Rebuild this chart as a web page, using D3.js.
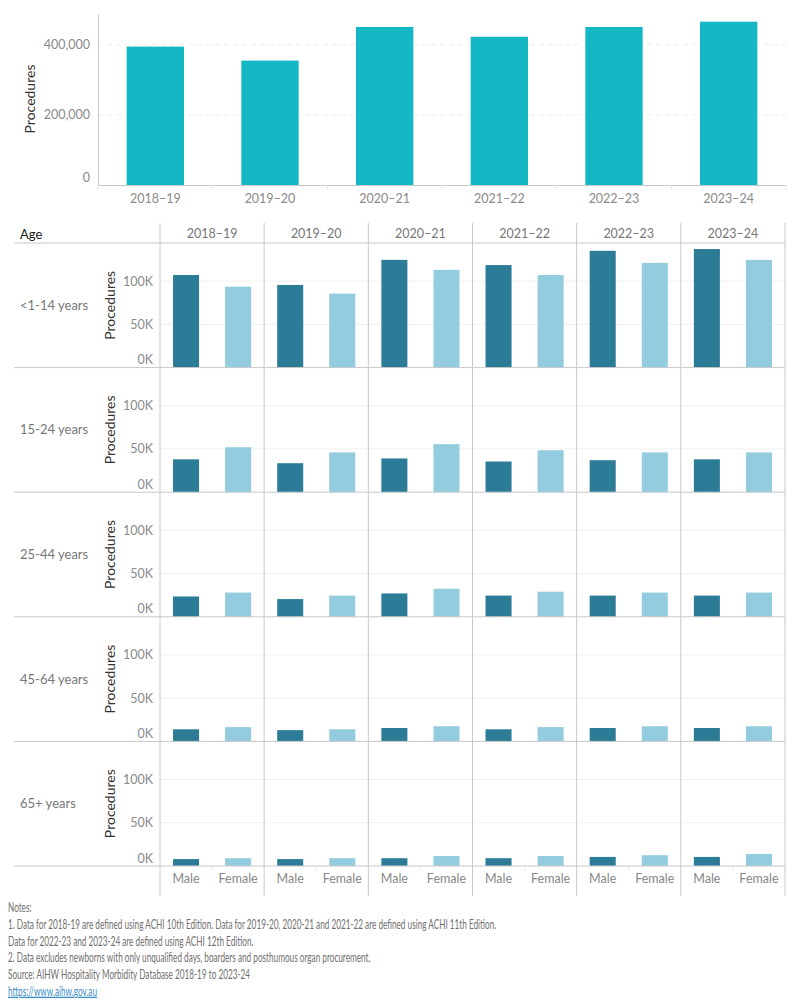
<!DOCTYPE html>
<html>
<head>
<meta charset="utf-8">
<script src="https://cdn.jsdelivr.net/npm/d3@7"></script>
<style>
  body { margin: 0; background: #fff; }
  svg text { font-family: Lato, "Open Sans", sans-serif; }
</style>
</head>
<body>
<svg id="chart" width="800" height="1000"></svg>
<script>
// financial years (en dash in labels)
const years = ["2018\u201319", "2019\u201320", "2020\u201321", "2021\u201322", "2022\u201323", "2023\u201324"];

// total procedures per year (top chart)
const totalProcedures = [395000, 355000, 451000, 423000, 451000, 466000];

const ageGroups = ["<1-14 years", "15-24 years", "25-44 years", "45-64 years", "65+ years"];
const sexes = ["Male", "Female"];

// procedures by age group (rows) and year (columns)
const maleValues = [
  [107000, 95500, 124500, 118500, 135000, 137000],
  [38000, 33500, 39000, 35500, 37000, 38000],
  [23500, 20500, 27000, 24500, 24500, 24500],
  [14000, 13000, 15500, 14000, 15500, 15500],
  [8000, 8000, 9000, 9000, 10500, 10500],
];
const femaleValues = [
  [93500, 85500, 113000, 107000, 121000, 124500],
  [52000, 46000, 55500, 48500, 46000, 46000],
  [28000, 24500, 32500, 29000, 28000, 28000],
  [16500, 14000, 17500, 16500, 17500, 17500],
  [9000, 9000, 11500, 11500, 12500, 14000],
];

const topTicks = [0, 200000, 400000];
const rowTicks = [0, 50000, 100000];

const notes = [
  "Notes:",
  "1. Data for 2018-19 are defined using ACHI 10th Edition. Data for 2019-20, 2020-21 and 2021-22 are defined using ACHI 11th Edition.",
  "Data for 2022-23 and 2023-24 are defined using ACHI 12th Edition.",
  "2. Data excludes newborns with only unqualified days, boarders and posthumous organ procurement.",
  "Source: AIHW Hospitality Morbidity Database 2018-19 to 2023-24",
];
const link = "https://www.aihw.gov.au";

const colors = { total: "#14b8c5", Male: "#2c7c98", Female: "#93ccdf" };
const lineColor = "#c8c8c8";
const tickColor = "#8a8a8a";

const svg = d3.select("#chart");

// ---------- top chart: total procedures ----------
const topBox = { left: 98, right: 786, top: 14, bottom: 185 };

const xTop = d3.scaleBand()
  .domain(years)
  .range([topBox.left, topBox.right])
  .paddingInner(0.5)
  .paddingOuter(0.25);

const yTop = d3.scaleLinear()
  .domain([0, 488000])
  .range([topBox.bottom, topBox.top]);

// dashed gridlines
svg.append("g")
  .selectAll("line")
  .data(topTicks.filter(d => d > 0))
  .join("line")
  .attr("x1", topBox.left)
  .attr("x2", topBox.right)
  .attr("y1", d => yTop(d))
  .attr("y2", d => yTop(d))
  .attr("stroke", "#ececec")
  .attr("stroke-dasharray", "5,4");

svg.append("g")
  .selectAll("rect")
  .data(totalProcedures)
  .join("rect")
  .attr("x", (d, i) => xTop(years[i]))
  .attr("y", d => yTop(d))
  .attr("width", xTop.bandwidth())
  .attr("height", d => yTop(0) - yTop(d))
  .attr("fill", colors.total);

const yAxisTop = svg.append("g")
  .attr("transform", `translate(${topBox.left},0)`)
  .call(d3.axisLeft(yTop).tickValues(topTicks).tickFormat(d3.format(",")).tickSize(0).tickPadding(8));
yAxisTop.select(".domain").attr("stroke", lineColor);
yAxisTop.selectAll("text")
  .attr("fill", tickColor)
  .attr("font-size", 12.5)
  .attr("dy", d => d === 0 ? "-0.32em" : "0.32em");

const xAxisTop = svg.append("g")
  .attr("transform", `translate(0,${topBox.bottom})`)
  .call(d3.axisBottom(xTop).tickSize(0).tickPadding(9));
xAxisTop.select(".domain").attr("stroke", lineColor);
xAxisTop.selectAll("text").attr("fill", tickColor).attr("font-size", 12.5);

// small separators between categories
const topSeps = years.map(y => xTop(y) - (xTop.step() - xTop.bandwidth()) / 2).concat([topBox.right]);
svg.append("g")
  .selectAll("line")
  .data(topSeps)
  .join("line")
  .attr("x1", d => d).attr("x2", d => d)
  .attr("y1", topBox.bottom).attr("y2", topBox.bottom + 5)
  .attr("stroke", "#e2e2e2");

svg.append("text")
  .attr("transform", `translate(30,99) rotate(-90)`)
  .attr("dy", "0.35em")
  .attr("text-anchor", "middle")
  .attr("font-size", 14)
  .attr("fill", "#333")
  .text("Procedures");

// ---------- bottom grid: by age group and sex ----------
const grid = { left: 160, right: 785, top: 243, header: 223, rowH: 124.6, lineLeft: 14, labelX: 20, axisTitleX: 110 };
const gridBottom = grid.top + grid.rowH * ageGroups.length;

const xCol = d3.scaleBand().domain(years).range([grid.left, grid.right]);
const xSex = d3.scaleBand().domain(sexes).range([0, xCol.bandwidth()]).paddingInner(0.5).paddingOuter(0.25);
const yRow = d3.scaleBand().domain(ageGroups).range([grid.top, gridBottom]);

// header
svg.append("text")
  .attr("x", grid.labelX).attr("y", (grid.header + grid.top) / 2 + 1)
  .attr("dy", "0.35em")
  .attr("font-size", 13)
  .attr("fill", "#222")
  .text("Age");

svg.append("g")
  .selectAll("text")
  .data(years)
  .join("text")
  .attr("x", d => xCol(d) + xCol.bandwidth() / 2)
  .attr("y", (grid.header + grid.top) / 2 + 1)
  .attr("dy", "0.35em")
  .attr("text-anchor", "middle")
  .attr("font-size", 12.5)
  .attr("fill", "#777")
  .text(d => d);

ageGroups.forEach((age, r) => {
  const rowTop = yRow(age);
  const rowBottom = rowTop + yRow.bandwidth();
  const y = d3.scaleLinear().domain([0, 144000]).range([rowBottom, rowTop]);
  const g = svg.append("g");

  // gridlines
  g.append("g")
    .selectAll("line")
    .data(rowTicks.filter(d => d > 0))
    .join("line")
    .attr("x1", grid.left).attr("x2", grid.right)
    .attr("y1", d => y(d)).attr("y2", d => y(d))
    .attr("stroke", "#f0f0f0");

  // bars
  years.forEach((yr, c) => {
    const vals = [maleValues[r][c], femaleValues[r][c]];
    g.append("g")
      .selectAll("rect")
      .data(vals)
      .join("rect")
      .attr("x", (d, i) => xCol(yr) + xSex(sexes[i]))
      .attr("y", d => y(d))
      .attr("width", xSex.bandwidth())
      .attr("height", d => y(0) - y(d))
      .attr("fill", (d, i) => colors[sexes[i]]);
  });

  // axis
  const ax = g.append("g")
    .attr("transform", `translate(${grid.left},0)`)
    .call(d3.axisLeft(y).tickValues(rowTicks).tickFormat(d => d / 1000 + "K").tickSize(0).tickPadding(7));
  ax.select(".domain").remove();
  ax.selectAll("text")
    .attr("fill", tickColor)
    .attr("font-size", 12.5)
    .attr("dy", d => d === 0 ? "-0.32em" : "0.32em");

  g.append("text")
    .attr("transform", `translate(${grid.axisTitleX},${(rowTop + rowBottom) / 2}) rotate(-90)`)
    .attr("dy", "0.35em")
    .attr("text-anchor", "middle")
    .attr("font-size", 14)
    .attr("fill", "#333")
    .text("Procedures");

  g.append("text")
    .attr("x", grid.labelX)
    .attr("y", (rowTop + rowBottom) / 2)
    .attr("dy", "0.35em")
    .attr("font-size", 13)
    .attr("fill", "#777")
    .text(age);
});

// horizontal row lines
svg.append("g")
  .selectAll("line")
  .data([grid.top].concat(ageGroups.map(a => yRow(a) + yRow.bandwidth())))
  .join("line")
  .attr("x1", grid.lineLeft).attr("x2", grid.right)
  .attr("y1", d => d).attr("y2", d => d)
  .attr("stroke", lineColor);

// vertical column lines
svg.append("g")
  .selectAll("line")
  .data(years.map(y => xCol(y)).concat([grid.right]))
  .join("line")
  .attr("x1", d => d).attr("x2", d => d)
  .attr("y1", grid.header).attr("y2", gridBottom + 30)
  .attr("stroke", lineColor);

// sex labels along the bottom
years.forEach(yr => {
  svg.append("line")
    .attr("x1", xCol(yr) + xCol.bandwidth() / 2).attr("x2", xCol(yr) + xCol.bandwidth() / 2)
    .attr("y1", gridBottom).attr("y2", gridBottom + 5)
    .attr("stroke", "#e6e6e6");
  svg.append("g")
    .selectAll("text")
    .data(sexes)
    .join("text")
    .attr("x", d => xCol(yr) + xSex(d) + xSex.bandwidth() / 2)
    .attr("y", gridBottom + 13)
    .attr("dy", "0.35em")
    .attr("text-anchor", "middle")
    .attr("font-size", 12.5)
    .attr("fill", "#888")
    .text(d => d);
});

// ---------- notes ----------
const notesG = svg.append("g").attr("transform", "translate(8,0)");
const noteText = notesG.selectAll("text")
  .data(notes.concat([link]))
  .join("text")
  .attr("x", 0)
  .attr("y", (d, i) => 912.5 + i * 16.6)
  .attr("font-size", 13.5)
  .attr("fill", (d, i) => i === notes.length ? "#3d8fc6" : "#707070")
  .attr("text-decoration", (d, i) => i === notes.length ? "underline" : null)
  .text(d => d);

// squeeze notes horizontally to match the condensed font in the original
const w = noteText.nodes()[1].getComputedTextLength();
const squeeze = 489 / w;
notesG.attr("transform", `translate(8,0) scale(${squeeze},1)`);
</script>
</body>
</html>
